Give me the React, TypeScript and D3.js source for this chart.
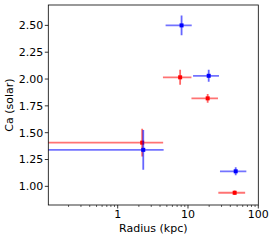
import React from "react";
import * as d3 from "d3";

// Data: x (kpc), lower/upper x bounds, y (solar), y error
const blueX = [2.31, 8.1, 19.7, 47.7];
const blueXLo = [0.001, 4.8, 11.8, 28.5];
const blueXHi = [4.5, 11.3, 27.6, 67.6];
const blueY = [1.34, 2.5, 2.03, 1.14];
const blueYErr = [0.185, 0.093, 0.056, 0.037];

const redX = [2.23, 7.73, 19.05, 46.1];
const redXLo = [0.001, 4.4, 11.2, 27.0];
const redXHi = [4.43, 11.2, 26.7, 65.0];
const redY = [1.407, 2.016, 1.82, 0.94];
const redYErr = [0.13, 0.07, 0.04, 0.02];

const yTicks = [1.0, 1.25, 1.5, 1.75, 2.0, 2.25, 2.5];
const xTicks = [1, 10, 100];
const xLabel = "Radius (kpc)";
const yLabel = "Ca (solar)";

const W = 274;
const H = 240;
const L = 48.3;
const R = 258.3;
const T = 5;
const B = 205;

export default function App() {
  const x = d3.scaleLog().domain([0.103, 100]).range([L, R]);
  const y = d3.scaleLinear().domain([0.826, 2.69]).range([B, T]);

  const minor: number[] = [];
  for (const dec of [0.1, 1, 10]) {
    for (let k = 2; k <= 9; k++) {
      const v = dec * k;
      if (v >= 0.103 && v <= 100) minor.push(v);
    }
  }

  const font = "DejaVu Sans, sans-serif";
  const fs = 11;

  const series = [
    { color: "#ff0000", xs: redX, lo: redXLo, hi: redXHi, ys: redY, ye: redYErr },
    { color: "#0000ff", xs: blueX, lo: blueXLo, hi: blueXHi, ys: blueY, ye: blueYErr },
  ];

  return (
    <svg
      width={W}
      height={H}
      style={{ position: "absolute", left: 0, top: 0, background: "#fff" }}
    >
      <defs>
        <clipPath id="plotclip">
          <rect x={L} y={T} width={R - L} height={B - T} />
        </clipPath>
      </defs>
      <rect x={0} y={0} width={W} height={H} fill="#fff" />
      <g clipPath="url(#plotclip)">
        {series.map((s, si) =>
          s.xs.map((xv, i) => (
            <g key={`${si}-${i}`}>
              <line
                x1={x(Math.max(s.lo[i], 0.01))}
                x2={x(s.hi[i])}
                y1={y(s.ys[i])}
                y2={y(s.ys[i])}
                stroke={s.color}
                strokeOpacity={0.55}
                strokeWidth={1.8}
              />
              <line
                x1={x(xv)}
                x2={x(xv)}
                y1={y(s.ys[i] - s.ye[i])}
                y2={y(s.ys[i] + s.ye[i])}
                stroke={s.color}
                strokeOpacity={0.6}
                strokeWidth={1.8}
              />
              <rect
                x={x(xv) - 2}
                y={y(s.ys[i]) - 2}
                width={4}
                height={4}
                fill={s.color}
              />
            </g>
          ))
        )}
      </g>
      <rect
        x={L}
        y={T}
        width={R - L}
        height={B - T}
        fill="none"
        stroke="#000"
        strokeWidth={0.8}
      />
      {yTicks.map((t) => (
        <g key={`y${t}`}>
          <line x1={L - 3.5} x2={L} y1={y(t)} y2={y(t)} stroke="#000" strokeWidth={0.8} />
          <text
            x={L - 5}
            y={y(t)}
            dy="0.35em"
            textAnchor="end"
            fontFamily={font}
            fontSize={fs}
            fill="#000"
          >
            {d3.format(".2f")(t)}
          </text>
        </g>
      ))}
      {xTicks.map((t) => (
        <g key={`x${t}`}>
          <line x1={x(t)} x2={x(t)} y1={B} y2={B + 3.5} stroke="#000" strokeWidth={0.8} />
          <text
            x={x(t)}
            y={B + 13}
            textAnchor="middle"
            fontFamily={font}
            fontSize={fs}
            fill="#000"
          >
            {String(t)}
          </text>
        </g>
      ))}
      {minor.map((t) => (
        <line
          key={`m${t}`}
          x1={x(t)}
          x2={x(t)}
          y1={B}
          y2={B + 2}
          stroke="#000"
          strokeWidth={0.6}
        />
      ))}
      <text
        x={(L + R) / 2}
        y={B + 27}
        textAnchor="middle"
        fontFamily={font}
        fontSize={fs}
        fill="#000"
      >
        {xLabel}
      </text>
      <text
        transform={`translate(${13},${(T + B) / 2}) rotate(-90)`}
        textAnchor="middle"
        fontFamily={font}
        fontSize={fs}
        fill="#000"
      >
        {yLabel}
      </text>
    </svg>
  );
}
